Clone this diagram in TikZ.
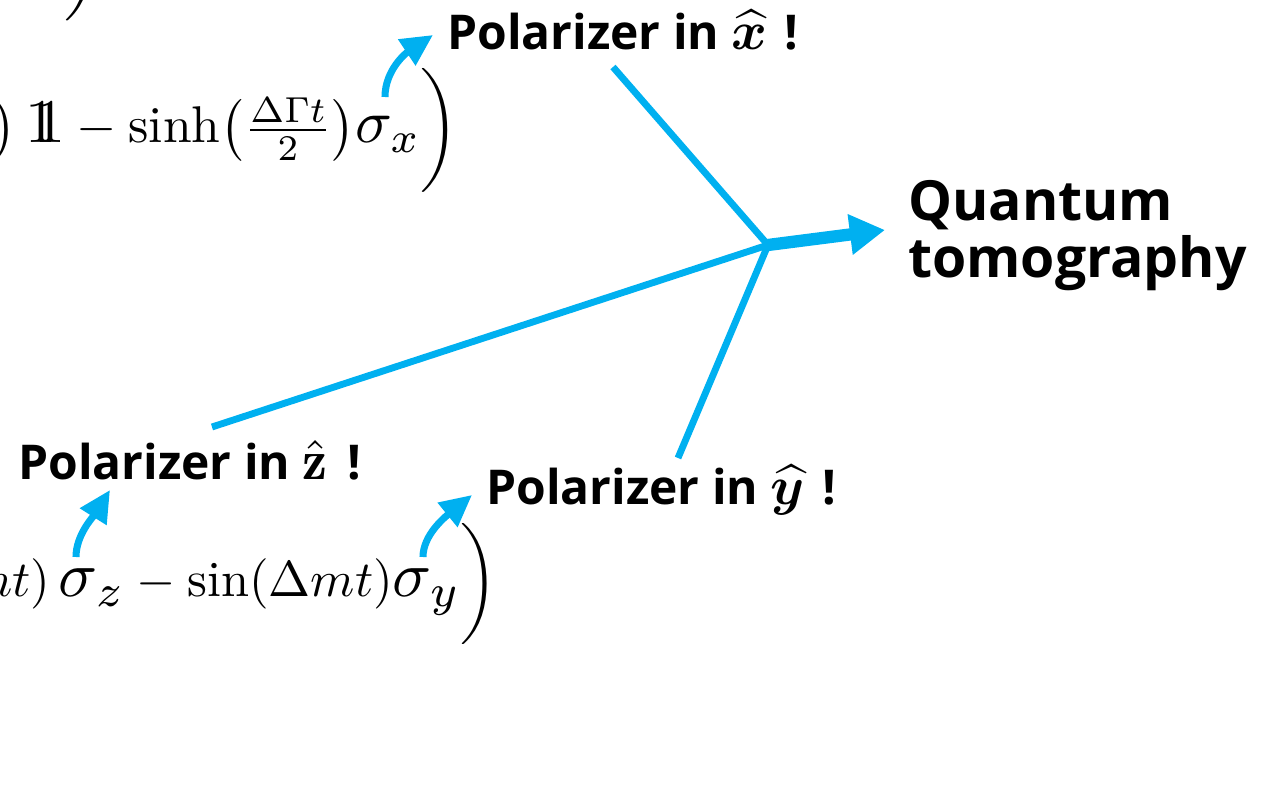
\documentclass[tikz,border=0pt]{standalone}
\usepackage{amsmath}
\usepackage{amssymb}
\usepackage{bm}
\usepackage{fontspec}
\usepackage{xcolor}
\newfontfamily\slidefont{Open Sans}
\usetikzlibrary{arrows.meta}

\definecolor{polblue}{RGB}{0,176,240}
\newcommand{\bsig}[2][1.18]{\scalebox{#1}{$\sigma_{#2}$}}
\newcommand{\unitop}{\scalebox{1.2}{$\mathrm{1}\mkern-6.3mu\mathrm{1}$}}
\newcommand{\axis}[2][3.1]{\scalebox{#1}{\normalsize$#2$}}

\tikzset{
  polarizer/.style={font=\slidefont\bfseries\fontsize{27.3}{33}\selectfont, inner sep=0pt, anchor=base west},
  result/.style={font=\slidefont\bfseries\fontsize{31.5}{32.5}\selectfont, inner sep=0pt, align=left},
  eqn/.style={scale=3.0, transform shape, inner sep=0pt, anchor=base east},
  feed/.style={polblue, line width=3.9pt},
  hint/.style={polblue, line width=4pt, -{Triangle[length=18pt,width=17pt]}},
  bigarrow/.style={polblue, line width=7pt, -{Triangle[length=20pt,width=22pt]}}
}

\begin{document}
\begin{tikzpicture}[x=0.02cm, y=-0.02cm]
\useasboundingbox (0,0) rectangle (1286,786);
\clip (0,0) rectangle (1286,786);

% formulas (cut by the frame)
\node[eqn, anchor=south east] (prevline) at (104,22) {$\bigg)$};
\node[eqn, scale=0.98] (rhotop) at (460,143) {$\cosh\big(\frac{\Delta\Gamma t}{2}\big)\,\unitop-\sinh\!\big(\frac{\Delta\Gamma t}{2}\big)\bsig{x}\bigg)$};
\node[eqn, scale=0.957] (rhobot) at (499,597) {$\cos(\Delta mt)\,\bsig[1.28]{z}-\sin(\Delta mt)\bsig[1.28]{y}\bigg)$};

% labels
\node[polarizer] (polx) at (447,50) {Polarizer in \axis{\bm{\widehat{x}}}\hspace{0.1em} !};
\node[polarizer] (polz) at (18,480) {Polarizer in \axis[3.2]{\hat{\mathbf{z}}}\hspace{0.15em} !};
\node[polarizer] (poly) at (486,505) {Polarizer in \axis{\bm{\widehat{y}}}\hspace{0.1em} !};
\node[result, anchor=north west] (qt) at (908,180) {Quantum\\tomography};

% connectors
\coordinate (hub) at (768,245);
\coordinate (fromx) at (613,67);
\coordinate (fromz) at (212,427);
\coordinate (fromy) at (678,458);
\coordinate (qtin) at (885,230);
\draw[feed] (fromx) -- (hub);
\draw[feed] (fromz) -- (hub);
\draw[feed] (fromy) -- (hub);
\draw[bigarrow] (hub) -- (qtin);

% small arrows from the sigmas
\coordinate (sigx) at (385,97);
\coordinate (sigz) at (76,557);
\coordinate (sigy) at (423,557);
\draw[hint] (sigx) .. controls (385,70) and (406,53) .. (433,35);
\draw[hint] (sigz) .. controls (76,535) and (93,517) .. (110,490);
\draw[hint] (sigy) .. controls (423,535) and (445,517) .. (472,495);
\end{tikzpicture}
\end{document}
